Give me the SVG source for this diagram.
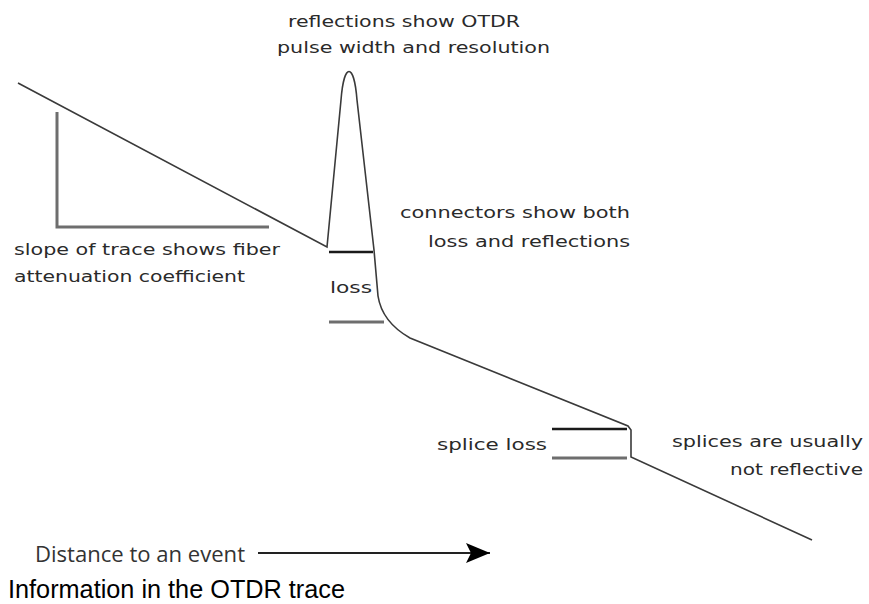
<svg xmlns="http://www.w3.org/2000/svg" width="869" height="604" viewBox="0 0 869 604">
<defs>
<style>
.lbl{font-family:"DejaVu Sans",sans-serif;font-size:16px;fill:#2a2a2a}
.trace{fill:none;stroke:#3a3a3a;stroke-width:1.6}
.ref{stroke:#1a1a1a;stroke-width:2.5}
.gry{stroke:#6e6e6e;stroke-width:3}
</style>
<marker id="ah" markerWidth="24" markerHeight="20" refX="24" refY="10" orient="auto" markerUnits="userSpaceOnUse" viewBox="0 0 24 20">
<path d="M0,0 L24,10 L0,20 L5,10 Z" fill="#000"/>
</marker>
</defs>
<rect width="869" height="604" fill="#fff"/>
<g id="connectors">
<path id="trace" class="trace" d="M18,83 L327,247 L341,100 C344,62 354,62 357,100 L374,250 L378,296 Q382,322 410,338 L628,426 L631,430 L631,457 L812,540"/>
<path id="slope" class="gry" fill="none" d="M57,112 L57,227 L269,227"/>
<line class="ref" x1="329" y1="252" x2="373" y2="252"/>
<line class="gry" x1="329" y1="322" x2="384" y2="322"/>
<line class="ref" x1="552" y1="429" x2="627" y2="429"/>
<line class="gry" x1="552" y1="458" x2="627" y2="458"/>
<line x1="258" y1="553" x2="490" y2="553" stroke="#222" stroke-width="2" marker-end="url(#ah)"/>
</g>
<g id="n-reflections">
<text class="lbl" x="288" y="27" textLength="232" lengthAdjust="spacingAndGlyphs">reflections show OTDR</text>
<text class="lbl" x="277" y="53" textLength="273" lengthAdjust="spacingAndGlyphs">pulse width and resolution</text>
</g>
<g id="n-connectors">
<text class="lbl" x="400" y="218" textLength="230" lengthAdjust="spacingAndGlyphs">connectors show both</text>
<text class="lbl" x="428" y="247" textLength="202" lengthAdjust="spacingAndGlyphs">loss and reflections</text>
</g>
<g id="n-slope">
<text class="lbl" x="14" y="255" textLength="266" lengthAdjust="spacingAndGlyphs">slope of trace shows fiber</text>
<text class="lbl" x="14" y="282" textLength="231" lengthAdjust="spacingAndGlyphs">attenuation coefficient</text>
</g>
<g id="n-loss">
<text class="lbl" x="330" y="293" textLength="42" lengthAdjust="spacingAndGlyphs">loss</text>
</g>
<g id="n-splice">
<text class="lbl" x="437" y="450" textLength="110" lengthAdjust="spacingAndGlyphs">splice loss</text>
</g>
<g id="n-splices">
<text class="lbl" x="672" y="447" textLength="191" lengthAdjust="spacingAndGlyphs">splices are usually</text>
<text class="lbl" x="730" y="475" textLength="133" lengthAdjust="spacingAndGlyphs">not reflective</text>
</g>
<g id="n-distance">
<text x="35" y="562" font-family="'Open Sans','Liberation Sans',sans-serif" font-size="22" fill="#333" textLength="210" lengthAdjust="spacingAndGlyphs">Distance to an event</text>
</g>
<g id="n-title">
<text x="8" y="598" font-family="'Liberation Sans',Arial,sans-serif" font-size="25" fill="#000" textLength="337" lengthAdjust="spacingAndGlyphs">Information in the OTDR trace</text>
</g>
</svg>
